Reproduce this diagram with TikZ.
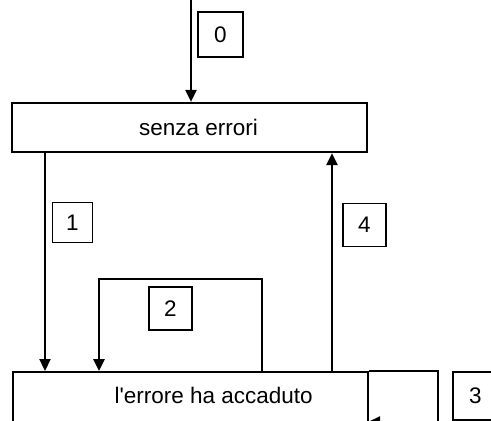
\documentclass[tikz,border=0pt]{standalone}
\usepackage{fontspec}
\setmainfont{Liberation Sans}
\usetikzlibrary{arrows.meta}
\begin{document}
\begin{tikzpicture}[x=1pt,y=-1pt,
  every node/.style={font=\fontsize{22.5}{27}\selectfont},
  statebox/.style={draw, line width=2.2pt, inner sep=0pt},
  numbox/.style={draw, line width=1.8pt, inner sep=0pt, minimum width=43pt, minimum height=43pt},
  conn/.style={line width=2.2pt, -{Triangle[length=12pt,width=11pt]}},
  plain/.style={line width=2.2pt}]
\useasboundingbox (0,0) rectangle (491,421);
\clip (0,0) rectangle (491,421);
% states
\node[statebox, minimum width=355pt, minimum height=49pt, text depth=0pt, text height=15pt] (ok) at (189.5,127.5) {\hspace*{18pt}senza errori};
\node[statebox, anchor=north west, minimum width=355pt, text height=31pt, text depth=40pt] (err) at (12,371) {\hspace*{46pt}l\textquotesingle errore ha accaduto};
% numbers
\node[numbox, minimum width=45pt, minimum height=45pt] (n0) at (220.5,34.5) {0};
\node[numbox, minimum width=40pt, minimum height=40pt] (n1) at (72.5,222.5) {1};
\node[numbox] (n2) at (170.5,308.5) {2};
\node[numbox, anchor=north west, minimum width=45pt, minimum height=48pt] (n3) at (452,371) {3};
\node[numbox] (n4) at (364.5,225) {4};
% helper coordinates
\coordinate (s0) at (191,-2);
\coordinate (x1) at (45,0);
\coordinate (x2a) at (262,0);
\coordinate (x2b) at (99,0);
\coordinate (top2) at (0,279);
\coordinate (x4) at (332,0);
\coordinate (r3) at (438,0);
\coordinate (b3) at (0,422);
\coordinate (e3) at (368,422);
% connectors
\draw[conn] (s0) -- (s0 |- ok.north);
\draw[conn] (ok.south -| x1) -- (err.north -| x1);
\draw[conn, line width=2.8pt] (err.north -| x2a) -- (x2a |- top2) -- (x2b |- top2) -- (err.north -| x2b);
\draw[conn] (err.north -| x4) -- (ok.south -| x4);
\draw[conn] (err.north east) -- (r3 |- err.north) -- (r3 |- b3) -- (e3);
\end{tikzpicture}
\end{document}
